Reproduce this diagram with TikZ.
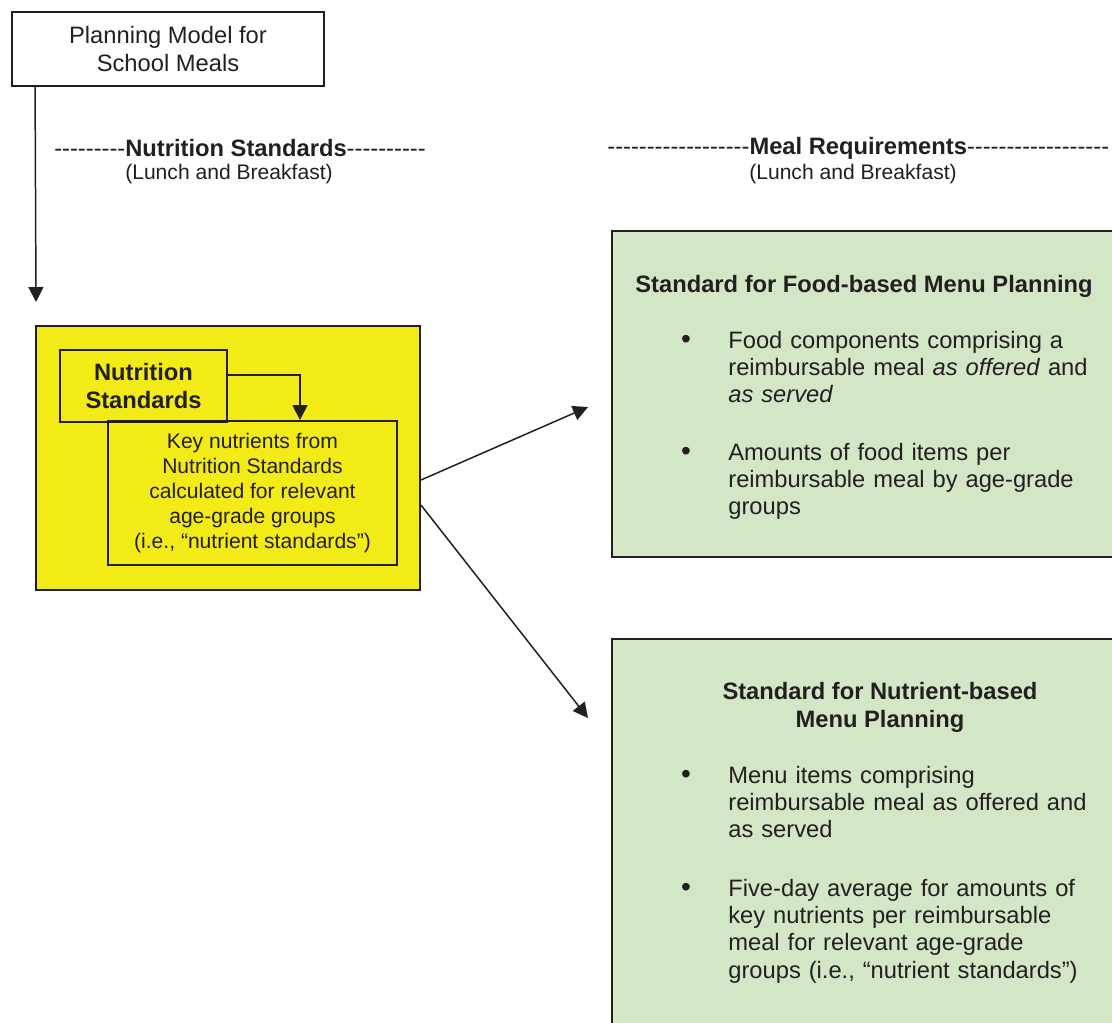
\documentclass[tikz,border=0pt]{standalone}
\usepackage{fontspec}
\setmainfont{Liberation Sans}[Ligatures=TeXOff]
\usepackage{xcolor}
\definecolor{inkgray}{HTML}{231F20}
\definecolor{boxyellow}{HTML}{F2EB17}
\definecolor{boxgreen}{HTML}{D3E7C7}
\usepackage{tikz}
\usetikzlibrary{arrows.meta}
\newcommand{\diagfont}{\fontsize{13.5pt}{15.6pt}\selectfont}
\newcommand{\smallfont}{\fontsize{12pt}{14.1pt}\selectfont}

\begin{document}
\begin{tikzpicture}[x=0.02cm, y=-0.02cm,
            font=\diagfont,
            every node/.style={text=inkgray},
            plainbox/.style={draw=inkgray, line width=1.1pt, inner sep=0pt, align=center},
            stdbox/.style={draw=inkgray, line width=1.1pt, fill=boxgreen, anchor=north west, inner sep=0pt, minimum width=10.8cm},
            itemtext/.style={anchor=base west, inner sep=0pt, text width=7.6cm, align=left},
            dot/.style={anchor=base, inner sep=0pt, font=\fontsize{16pt}{16pt}\selectfont},
            arr/.style={draw=inkgray, line width=0.85pt, -{Triangle[length=0.3cm, width=0.3cm]}}]
            \path[use as bounding box, clip] (0, 0) rectangle (1112, 1022);

            % top of the model
            \node (plan) at (168, 49) [plainbox, minimum width=6.24cm, minimum height=1.48cm] {Planning Model for\\School Meals};
            \coordinate (nsend) at (36, 302);
            \draw [arr] ([xshift=0.48cm]plan.south west) -- (nsend);

            \node (nshead) at (240, 148) {---------\textbf{Nutrition Standards}----------};
            \node (nssub) at (229, 174) [font=\smallfont] {(Lunch and Breakfast)};
            \node (mrhead) at (607, 148) [anchor=west, inner sep=0pt] {------------------\textbf{Meal Requirements}------------------};
            \node (mrsub) at (853, 174) [font=\smallfont] {(Lunch and Breakfast)};

            % nutrition standards
            \node (nsbox) at (228, 458) [plainbox, fill=boxyellow, minimum width=7.68cm, minimum height=5.28cm] {};
            \node (nstitle) at (143.5, 386) [plainbox, font=\diagfont\bfseries, minimum width=3.34cm, minimum height=1.44cm] {Nutrition\\Standards};
            \node (keynut) at (252.5, 493) [plainbox, font=\smallfont, minimum width=5.78cm, minimum height=2.88cm] {Key nutrients from\\Nutrition Standards\\calculated for relevant\\age-grade groups\\(i.e., “nutrient standards”)};
            \draw [arr] ([yshift=0.22cm]nstitle.east) -| ([xshift=0.95cm]keynut.north);

            \coordinate (foodtip) at (588, 407);
            \coordinate (nuttip) at (588, 718);
            \draw [arr] ([yshift=-0.44cm]nsbox.east) -- (foodtip);
            \draw [arr] ([yshift=-0.94cm]nsbox.east) -- (nuttip);

            % meal requirements
            \node (foodbox) at (611, 230) [stdbox, minimum height=6.52cm] {};
            \node (foodtitle) at (864, 292) [anchor=base, font=\diagfont\bfseries] {Standard for Food-based Menu Planning};
            \node (fooddot1) at (686, 348) [dot] {•};
            \node (fooditem1) at (728, 348) [itemtext] {Food components comprising a\\reimbursable meal \textit{as offered} and\\\textit{as served}};
            \node (fooddot2) at (686, 460) [dot] {•};
            \node (fooditem2) at (728, 460) [itemtext] {Amounts of food items per\\reimbursable meal by age-grade\\groups};

            \node (nutbox) at (611, 638) [stdbox, minimum height=10cm] {};
            \node (nuttitle) at (880, 727) [anchor=base, font=\diagfont\bfseries, align=center, inner sep=0pt] {Standard for Nutrient-based\\Menu Planning};
            \node (nutdot1) at (686, 783) [dot] {•};
            \node (nutitem1) at (728, 783) [itemtext] {Menu items comprising\\reimbursable meal as offered and\\as served};
            \node (nutdot2) at (686, 896) [dot] {•};
            \node (nutitem2) at (728, 896) [itemtext] {Five-day average for amounts of\\key nutrients per reimbursable\\meal for relevant age-grade\\groups (i.e., “nutrient standards”)};
        \end{tikzpicture}
\end{document}
